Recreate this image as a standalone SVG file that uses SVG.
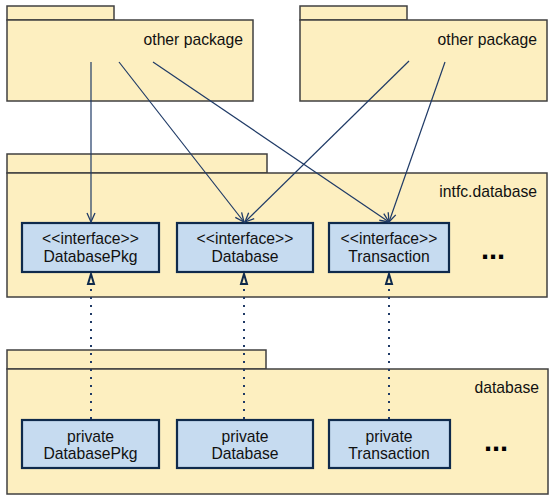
<svg xmlns="http://www.w3.org/2000/svg" width="558" height="503" viewBox="0 0 558 503">
<style>
.pkg{fill:#fdefc0;stroke:#404040;stroke-width:1.5}
.box{fill:#c6dbf0;stroke:#0f2a4c;stroke-width:2.2}
.t{font-family:"Liberation Sans",Arial,sans-serif;font-size:15.7px;fill:#111}
.c{text-anchor:middle}
.r{text-anchor:end}
.dots{font-family:"Liberation Sans",Arial,sans-serif;font-size:29px;font-weight:bold;fill:#000}
.dep{stroke:#1f3a66;stroke-width:1.2;fill:none}
.real{stroke:#1f3a66;stroke-width:2;stroke-dasharray:2 6;fill:none}
</style>
<defs>
<marker id="open" markerWidth="12" markerHeight="12" refX="10" refY="5" orient="auto" markerUnits="userSpaceOnUse">
<path d="M1,1 L10,5 L1,9" fill="none" stroke="#1f3a66" stroke-width="1.3"/>
</marker>
</defs>
<g id="pkg-other-left">
<rect class="pkg" x="7" y="6" width="107" height="14"/>
<rect class="pkg" x="7" y="20" width="246" height="81"/>
<text class="t r" x="243" y="45">other package</text>
</g>
<g id="pkg-other-right">
<rect class="pkg" x="300" y="6" width="107" height="14"/>
<rect class="pkg" x="300" y="20" width="247" height="81"/>
<text class="t r" x="537" y="45">other package</text>
</g>
<g id="pkg-intfc">
<rect class="pkg" x="7" y="154" width="260" height="19"/>
<rect class="pkg" x="7" y="173" width="540" height="124"/>
<text class="t r" x="537" y="197">intfc.database</text>
<text class="dots" x="481" y="258.5">...</text>
</g>
<g id="pkg-database">
<rect class="pkg" x="7" y="350" width="259" height="19"/>
<rect class="pkg" x="7" y="369" width="541" height="125"/>
<text class="t r" x="539" y="393">database</text>
<text class="dots" x="484" y="450.5">...</text>
</g>
<g id="if-databasepkg">
<rect class="box" x="22" y="223" width="137" height="49"/>
<text class="t c" x="90.5" y="244">&lt;&lt;interface&gt;&gt;</text>
<text class="t c" x="90.5" y="262">DatabasePkg</text>
</g>
<g id="if-database">
<rect class="box" x="177" y="223" width="136" height="49"/>
<text class="t c" x="245" y="244">&lt;&lt;interface&gt;&gt;</text>
<text class="t c" x="245" y="262">Database</text>
</g>
<g id="if-transaction">
<rect class="box" x="329" y="223" width="120" height="49"/>
<text class="t c" x="389" y="244">&lt;&lt;interface&gt;&gt;</text>
<text class="t c" x="389" y="262">Transaction</text>
</g>
<g id="priv-databasepkg">
<rect class="box" x="22" y="420" width="137" height="48"/>
<text class="t c" x="90.5" y="442">private</text>
<text class="t c" x="90.5" y="459">DatabasePkg</text>
</g>
<g id="priv-database">
<rect class="box" x="177" y="420" width="136" height="48"/>
<text class="t c" x="245" y="442">private</text>
<text class="t c" x="245" y="459">Database</text>
</g>
<g id="priv-transaction">
<rect class="box" x="329" y="420" width="121" height="48"/>
<text class="t c" x="389" y="442">private</text>
<text class="t c" x="389" y="459">Transaction</text>
</g>
<g id="connectors">
<line class="dep" x1="91" y1="62" x2="91" y2="222" marker-end="url(#open)"/>
<line class="dep" x1="119" y1="62" x2="244" y2="222" marker-end="url(#open)"/>
<line class="dep" x1="153" y1="62" x2="389" y2="222" marker-end="url(#open)"/>
<line class="dep" x1="409" y1="61" x2="245" y2="222" marker-end="url(#open)"/>
<line class="dep" x1="445" y1="62" x2="389" y2="222" marker-end="url(#open)"/>
<line class="real" x1="91" y1="419" x2="91" y2="285"/>
<line class="real" x1="244" y1="419" x2="244" y2="285"/>
<line class="real" x1="389" y1="419" x2="389" y2="285"/>
<path d="M91,274 L94,284 L88,284 Z" fill="#fdefc0" stroke="#0f2a4c" stroke-width="2"/>
<path d="M244,274 L247,284 L241,284 Z" fill="#fdefc0" stroke="#0f2a4c" stroke-width="2"/>
<path d="M389,274 L392,284 L386,284 Z" fill="#fdefc0" stroke="#0f2a4c" stroke-width="2"/>
</g>
</svg>
